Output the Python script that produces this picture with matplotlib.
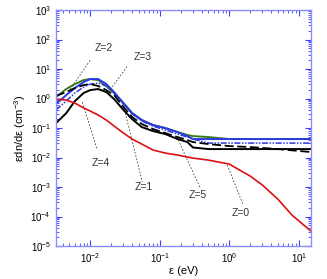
import numpy as np
import matplotlib as mpl
mpl.use('Agg')
from matplotlib import pyplot as plt
import matplotlib.ticker as ticker

plt.rcParams['font.family'] = ['Liberation Sans', 'DejaVu Sans']
plt.rcParams['mathtext.fontset'] = 'custom'
plt.rcParams['mathtext.rm'] = 'Liberation Sans'

#------------------- Data ----------------------
energy = [0.0032, 0.0045, 0.006, 0.008, 0.01, 0.013, 0.017, 0.022, 0.03, 0.04,
          0.055, 0.08, 0.12, 0.18, 0.25, 0.3, 0.5, 1.0, 2.0, 5.0, 15.0]
z1_solid = [0.146, 0.32, 0.82, 1.54, 1.94, 2.10, 1.66, 0.96, 0.41, 0.20,
            0.108, 0.079, 0.0626, 0.0424, 0.0335, 0.022, 0.0194, 0.0194, 0.0194, 0.0194, 0.0194]
z4_dashed = [1.22, 1.66, 2.27, 2.87, 3.10, 2.66, 1.94, 1.31, 0.52, 0.236,
             0.137, 0.0925, 0.0677, 0.0495, 0.0392, 0.0335, 0.0287, 0.0245, 0.0227, 0.0194, 0.0154]
z2_green = [1.12, 2.10, 3.10, 4.24, 4.58, 4.24, 2.66, 1.54, 0.70, 0.32,
            0.187, 0.126, 0.100, 0.0731, 0.058, 0.0535, 0.0495, 0.0424, 0.0424, 0.0424, 0.0424]
z3_blue = [0.65, 1.31, 2.27, 3.62, 4.58, 4.58, 3.10, 1.66, 0.70, 0.32,
           0.187, 0.126, 0.100, 0.0731, 0.0535, 0.0424, 0.0424, 0.0424, 0.0424, 0.0424, 0.0424]
z5_bluedd = [0.41, 0.82, 1.54, 2.45, 3.10, 3.35, 2.66, 1.54, 0.65, 0.30,
             0.173, 0.117, 0.0855, 0.0626, 0.0495, 0.0424, 0.031, 0.031, 0.031, 0.031, 0.031]
red_energy = [0.0032, 0.0045, 0.006, 0.008, 0.01, 0.013, 0.017, 0.022, 0.03, 0.04,
              0.055, 0.08, 0.12, 0.18, 0.25, 0.3, 0.5, 1.0, 2.0, 3.0, 5.0, 8.0, 15.0]
z0_red = [0.96, 0.89, 0.70, 0.48, 0.377, 0.276, 0.187, 0.117, 0.0677, 0.0424,
          0.0287, 0.018, 0.0142, 0.0122, 0.0104, 0.0096, 0.0082, 0.0060, 0.00236,
          0.00117, 3.9e-4, 1.12e-4, 3.2e-5]

labels = ['Z=0', 'Z=1', 'Z=2', 'Z=3', 'Z=4', 'Z=5']
label_pos = [(1.44, 1.3e-4), (0.058, 0.001), (0.0154, 51.5), (0.056, 25.5),
             (0.0139, 0.0065), (0.347, 5.4e-4)]
leader_from = [(0.936, 0.0056), (0.0319, 0.32), (0.00482, 1.66), (0.0182, 1.66),
               (0.00768, 0.76), (0.1845, 0.0392)]
leader_to = [(1.59, 2.45e-4), (0.056, 0.00148), (0.01, 20.2), (0.0352, 13.7),
             (0.0126, 0.018), (0.383, 9.2e-4)]

#--------------------- PLOT ------------------------
fig = plt.figure(figsize=(3.27, 2.79), dpi=100)
axe = fig.add_axes([0.171, 0.118, 0.780, 0.846])

axe.plot(energy, z2_green, color='#3a7a1a', linewidth=1.4)
axe.plot(energy, z5_bluedd, color='#2a3ae0', linewidth=1.1, dashes=(4, 1, 1, 1, 1, 1))
axe.plot(energy, z3_blue, color='#2a3ae0', linewidth=1.4)
axe.plot(energy, z4_dashed, color='black', linewidth=1.3, dashes=(5, 2))
axe.plot(energy, z1_solid, color='black', linewidth=1.4)
axe.plot(red_energy, z0_red, color='#dd1111', linewidth=1.2)

for lab, p, a, b in zip(labels, label_pos, leader_from, leader_to):
    axe.plot([a[0], b[0]], [a[1], b[1]], color='#444444', linewidth=0.6, dashes=(2, 2))
    axe.text(p[0], p[1], lab, ha='center', va='center', fontsize=7.5, color='#333333')

axe.set_xscale('log')
axe.set_yscale('log')
axe.set_xlim(3.2e-3, 15)
axe.set_ylim(1e-5, 1e3)
axe.yaxis.set_major_locator(ticker.LogLocator(base=10, numticks=20))
axe.yaxis.set_minor_locator(ticker.LogLocator(base=10, subs=np.arange(2, 10), numticks=20))
axe.yaxis.set_minor_formatter(ticker.NullFormatter())
axe.xaxis.set_minor_formatter(ticker.NullFormatter())

axcol = '#8a8cff'
for s in axe.spines.values():
    s.set_color(axcol)
    s.set_linewidth(1.0)
axe.tick_params(which='both', direction='in', top=True, right=True, colors='#3a40ff',
                labelcolor='black', labelsize=7)
axe.tick_params(which='major', length=4.5)
axe.tick_params(which='minor', length=2.5)

axe.set_xlabel(r'ε (eV)', fontsize=8, labelpad=1)
axe.set_ylabel(r'εdn/dε (cm$^{-3}$)', fontsize=8, labelpad=2)

plt.savefig('out.png', dpi=100)
